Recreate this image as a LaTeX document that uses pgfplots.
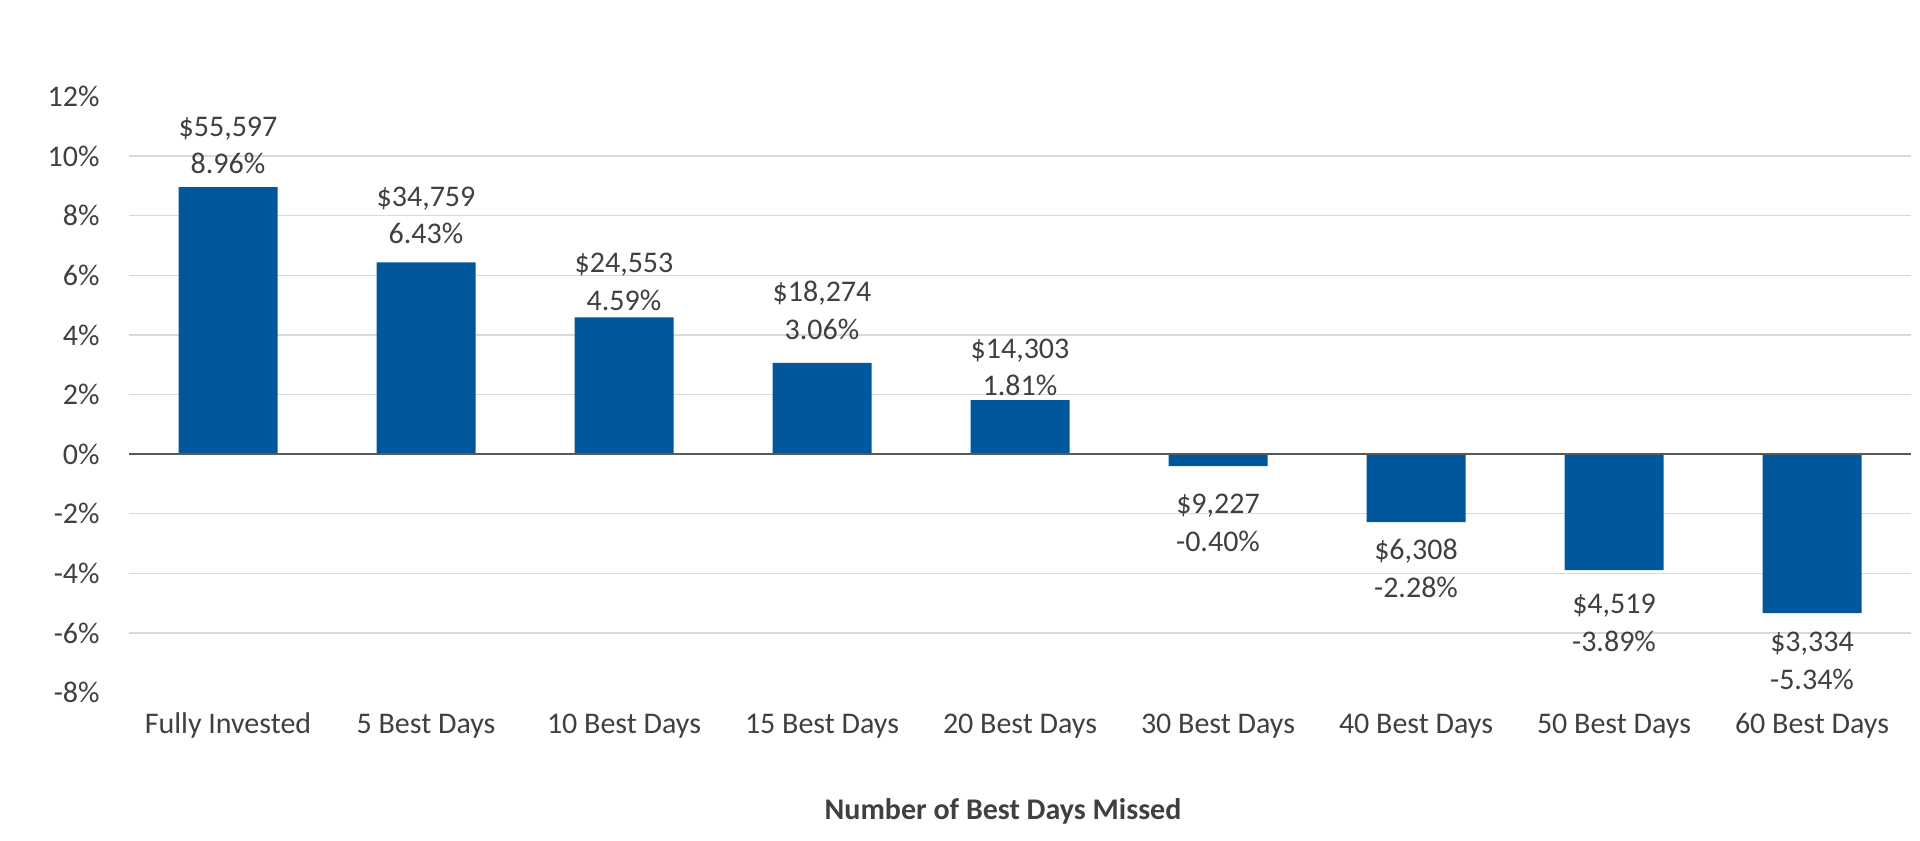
\documentclass[border=0pt]{standalone}
\usepackage{fontspec}
\setmainfont{Carlito}
\usepackage{pgfplots}
\usepackage{pgfplotstable}
\pgfplotsset{compat=1.18}

\definecolor{barblue}{RGB}{0,87,155}
\definecolor{txtgray}{RGB}{64,64,64}
\definecolor{gridgray}{RGB}{217,217,217}
\definecolor{zerogray}{RGB}{89,89,89}

% x = category index, y = annualised return (%), d = ending value ($),
% off = label nudge in pt (labels sit at slightly different gaps in the original)
\pgfplotstableread{
x y d off
0 8.96 55,597 -0.2
1 6.43 34,759 2.6
2 4.59 24,553 -3.2
3 3.06 18,274 5.1
4 1.81 14,303 -4.5
}\gains
\pgfplotstableread{
x y d off
5 -0.40 9,227 -5.9
6 -2.28 6,308 -0.4
7 -3.89 4,519 -3.9
8 -5.34 3,334 -1.2
}\losses

\pgfplotsset{
  retbar/.style={ybar, bar width=0.5, fill=barblue, draw=none,
    point meta=explicit symbolic,
    visualization depends on={rawy \as \yval},
    visualization depends on={\thisrow{off} \as \off},
    nodes near coords={\$\pgfplotspointmeta\\\pgfmathprintnumber[fixed,fixed zerofill,precision=2]{\yval}\%},
    nodes near coords style={align=center, text=txtgray, inner xsep=0pt,
      yshift=\off pt, font=\fontsize{15}{18.75}\selectfont},
  },
}

\begin{document}
\fontsize{15}{18.75}\selectfont
\begin{tikzpicture}
\path[use as bounding box] (-64.5pt,-73.75pt) rectangle (895.5pt,346.25pt);
\begin{axis}[
  at={(0,0)}, anchor=south west,
  scale only axis,
  width=891pt, height=298pt,
  xmin=-0.5, xmax=8.5,
  ymin=-8, ymax=12,
  xtick={0,...,8},
  xticklabels={Fully Invested,5 Best Days,10 Best Days,15 Best Days,20 Best Days,30 Best Days,40 Best Days,50 Best Days,60 Best Days},
  ytick={-6,-4,-2,0,2,4,6,8,10},
  yticklabels={-6\%,-4\%,-2\%,0\%,2\%,4\%,6\%,8\%,10\%},
  extra y ticks={-8,12},
  extra y tick labels={-8\%,12\%},
  extra y tick style={grid=none},
  ymajorgrids,
  major grid style={draw=gridgray, line width=0.75pt},
  axis line style={draw=none},
  tick style={draw=none},
  /pgf/number format/assume math mode=true,
  tick label style={text=txtgray, font=\fontsize{15}{18.75}\selectfont},
  yticklabel style={anchor=east, inner sep=0pt, xshift=-14.5pt},
  xticklabel style={anchor=base, inner sep=0pt, yshift=-20.6pt},
  xlabel={Number of Best Days Missed},
  xlabel style={at={(axis description cs:0.4905,0)}, anchor=base, inner sep=0pt,
    yshift=-63.6pt, text=txtgray, font=\fontsize{15}{18.75}\selectfont\bfseries},
  clip=false,
]
\addplot[retbar, nodes near coords style={anchor=south, inner ysep=6.5pt}]
  table[x=x, y=y, meta=d] {\gains};
\addplot[retbar, nodes near coords style={anchor=north, inner ysep=8pt}]
  table[x=x, y=y, meta=d] {\losses};
\addplot[draw=zerogray, line width=1pt, forget plot] coordinates {(-0.5,0) (8.5,0)};
\end{axis}
\end{tikzpicture}
\end{document}
